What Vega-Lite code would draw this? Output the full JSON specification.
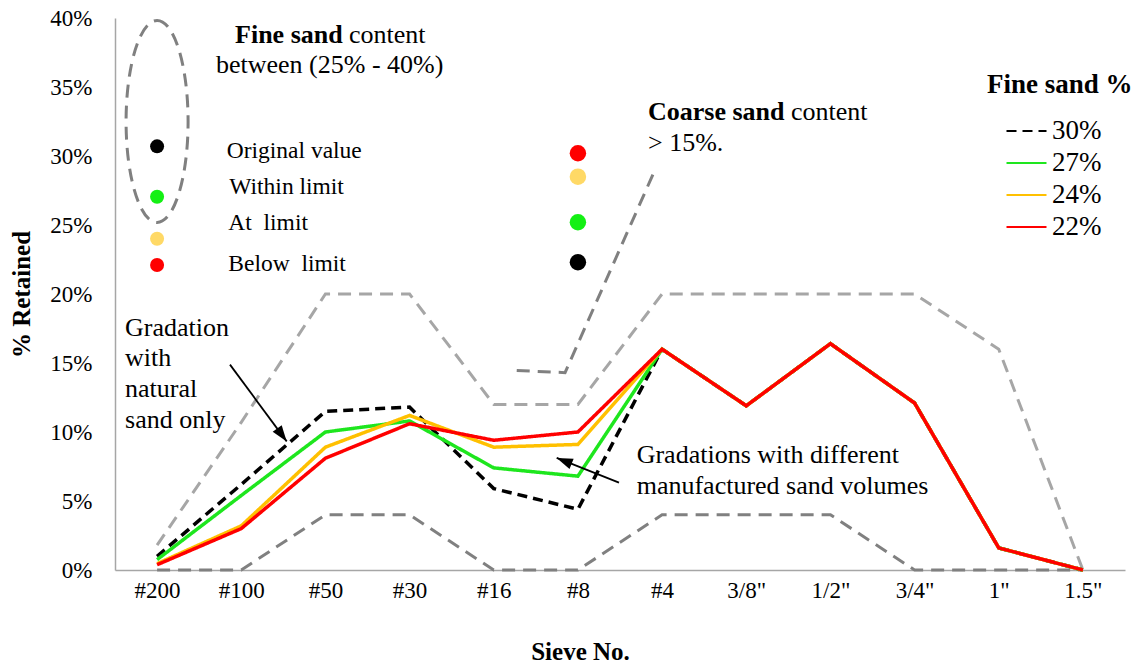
{
  "$schema": "https://vega.github.io/schema/vega-lite/v6.json",
  "width": 1010,
  "height": 552,
  "autosize": {"type": "none"},
  "padding": {"left": 115, "top": 18, "right": 21, "bottom": 96},
  "background": "white",
  "config": {
    "view": {"stroke": null},
    "font": "Liberation Serif",
    "axis": {
      "grid": false,
      "ticks": false,
      "tickSize": 0,
      "domainColor": "#A6A6A6",
      "domainWidth": 1.5,
      "labelFont": "Liberation Serif",
      "labelColor": "#000000",
      "labelFontSize": 23,
      "titleFont": "Liberation Serif",
      "titleColor": "#000000",
      "titleFontSize": 25,
      "titleFontWeight": "bold",
      "labelOverlap": false,
      "labelFlush": false
    }
  },
  "datasets": {
    "series": [
      {"pos": 1, "series": "30%", "retained": 0.99},
      {"pos": 2, "series": "30%", "retained": 6.2},
      {"pos": 3, "series": "30%", "retained": 11.5},
      {"pos": 4, "series": "30%", "retained": 11.8},
      {"pos": 5, "series": "30%", "retained": 5.9},
      {"pos": 6, "series": "30%", "retained": 4.4},
      {"pos": 7, "series": "30%", "retained": 16.0},
      {"pos": 8, "series": "30%", "retained": 11.9},
      {"pos": 9, "series": "30%", "retained": 16.4},
      {"pos": 10, "series": "30%", "retained": 12.1},
      {"pos": 11, "series": "30%", "retained": 1.6},
      {"pos": 12, "series": "30%", "retained": 0},
      {"pos": 1, "series": "27%", "retained": 0.75},
      {"pos": 2, "series": "27%", "retained": 5.4},
      {"pos": 3, "series": "27%", "retained": 10.0},
      {"pos": 4, "series": "27%", "retained": 10.8},
      {"pos": 5, "series": "27%", "retained": 7.4},
      {"pos": 6, "series": "27%", "retained": 6.8},
      {"pos": 7, "series": "27%", "retained": 16.0},
      {"pos": 8, "series": "27%", "retained": 11.9},
      {"pos": 9, "series": "27%", "retained": 16.4},
      {"pos": 10, "series": "27%", "retained": 12.1},
      {"pos": 11, "series": "27%", "retained": 1.6},
      {"pos": 12, "series": "27%", "retained": 0},
      {"pos": 1, "series": "24%", "retained": 0.46},
      {"pos": 2, "series": "24%", "retained": 3.2},
      {"pos": 3, "series": "24%", "retained": 8.9},
      {"pos": 4, "series": "24%", "retained": 11.2},
      {"pos": 5, "series": "24%", "retained": 8.9},
      {"pos": 6, "series": "24%", "retained": 9.1},
      {"pos": 7, "series": "24%", "retained": 16.0},
      {"pos": 8, "series": "24%", "retained": 11.9},
      {"pos": 9, "series": "24%", "retained": 16.4},
      {"pos": 10, "series": "24%", "retained": 12.1},
      {"pos": 11, "series": "24%", "retained": 1.6},
      {"pos": 12, "series": "24%", "retained": 0},
      {"pos": 1, "series": "22%", "retained": 0.38},
      {"pos": 2, "series": "22%", "retained": 3.0},
      {"pos": 3, "series": "22%", "retained": 8.1},
      {"pos": 4, "series": "22%", "retained": 10.6},
      {"pos": 5, "series": "22%", "retained": 9.4},
      {"pos": 6, "series": "22%", "retained": 10.0},
      {"pos": 7, "series": "22%", "retained": 16.0},
      {"pos": 8, "series": "22%", "retained": 11.9},
      {"pos": 9, "series": "22%", "retained": 16.4},
      {"pos": 10, "series": "22%", "retained": 12.1},
      {"pos": 11, "series": "22%", "retained": 1.6},
      {"pos": 12, "series": "22%", "retained": 0}
    ],
    "limits": [
      {"pos": 1, "bound": "upper", "retained": 1.8},
      {"pos": 2, "bound": "upper", "retained": 10.7},
      {"pos": 3, "bound": "upper", "retained": 20},
      {"pos": 4, "bound": "upper", "retained": 20},
      {"pos": 5, "bound": "upper", "retained": 12},
      {"pos": 6, "bound": "upper", "retained": 12},
      {"pos": 7, "bound": "upper", "retained": 20},
      {"pos": 8, "bound": "upper", "retained": 20},
      {"pos": 9, "bound": "upper", "retained": 20},
      {"pos": 10, "bound": "upper", "retained": 20},
      {"pos": 11, "bound": "upper", "retained": 16},
      {"pos": 12, "bound": "upper", "retained": 0},
      {"pos": 1, "bound": "lower", "retained": 0},
      {"pos": 2, "bound": "lower", "retained": 0},
      {"pos": 3, "bound": "lower", "retained": 4},
      {"pos": 4, "bound": "lower", "retained": 4},
      {"pos": 5, "bound": "lower", "retained": 0},
      {"pos": 6, "bound": "lower", "retained": 0},
      {"pos": 7, "bound": "lower", "retained": 4},
      {"pos": 8, "bound": "lower", "retained": 4},
      {"pos": 9, "bound": "lower", "retained": 4},
      {"pos": 10, "bound": "lower", "retained": 0},
      {"pos": 11, "bound": "lower", "retained": 0},
      {"pos": 12, "bound": "lower", "retained": 0}
    ],
    "coarse": [
      {"pos": 5.273, "retained": 14.46},
      {"pos": 5.847, "retained": 14.3},
      {"pos": 6.916, "retained": 29.0}
    ],
    "ellipse": [
      {"pos": 1, "retained": 32.5}
    ],
    "dots": [
      {"pos": 1, "status": "Original value", "retained": 30.7},
      {"pos": 1, "status": "Within limit", "retained": 27.05},
      {"pos": 1, "status": "At limit", "retained": 24.0},
      {"pos": 1, "status": "Below limit", "retained": 22.1},
      {"pos": 6, "status": "Below limit", "retained": 30.2},
      {"pos": 6, "status": "At limit", "retained": 28.5},
      {"pos": 6, "status": "Within limit", "retained": 25.2},
      {"pos": 6, "status": "Original value", "retained": 22.3}
    ],
    "arrows": [
      {"arrow": "natural", "part": "tail", "pos": 1.866, "retained": 14.88},
      {"arrow": "natural", "part": "tip", "pos": 2.54, "retained": 9.32},
      {"arrow": "manufactured", "part": "tail", "pos": 6.488, "retained": 6.33},
      {"arrow": "manufactured", "part": "tip", "pos": 5.748, "retained": 8.12}
    ],
    "boldNotes": [
      {"pos": 1.926, "retained": 38.19, "label": "Fine sand"},
      {"pos": 6.833, "retained": 32.58, "label": "Coarse sand"}
    ],
    "legendTitle": [
      {"pos": 10.86, "retained": 34.57, "label": "Fine sand %"}
    ],
    "notes": [
      {"pos": 3.28, "retained": 38.19, "label": "content"},
      {"pos": 1.7, "retained": 36.04, "label": "between (25% - 40%)"},
      {"pos": 8.532, "retained": 32.58, "label": "content"},
      {"pos": 6.833, "retained": 30.33, "label": "> 15%."},
      {"pos": 0.619, "retained": 16.98, "label": ["Gradation", "with", "natural", "sand only"]},
      {"pos": 6.698, "retained": 7.75, "label": ["Gradations with different", "manufactured sand volumes"]}
    ],
    "dotNotes": [
      {"pos": 1.827, "retained": 29.86, "label": "Original value"},
      {"pos": 1.858, "retained": 27.25, "label": "Within limit"},
      {"pos": 1.846, "retained": 24.61, "label": "At\u00a0 limit"},
      {"pos": 1.846, "retained": 21.64, "label": "Below\u00a0 limit"}
    ]
  },
  "encoding": {
    "x": {
      "field": "pos",
      "type": "quantitative",
      "scale": {"domain": [0.5, 12.5], "nice": false, "zero": false},
      "axis": {
        "values": [1, 2, 3, 4, 5, 6, 7, 8, 9, 10, 11, 12],
        "labelExpr": "['#200','#100','#50','#30','#16','#8','#4','3/8\"','1/2\"','3/4\"','1\"','1.5\"'][datum.value - 1]",
        "labelAngle": 0,
        "labelAlign": "center",
        "labelBaseline": "alphabetic",
        "labelPadding": 27,
        "title": "Sieve No.",
        "titleX": 465,
        "titleY": 89,
        "titleAlign": "center",
        "titleBaseline": "alphabetic"
      }
    },
    "y": {
      "field": "retained",
      "type": "quantitative",
      "scale": {"domain": [0, 40], "nice": false},
      "axis": {
        "values": [0, 5, 10, 15, 20, 25, 30, 35, 40],
        "labelExpr": "datum.value + '%'",
        "labelPadding": 23,
        "title": "% Retained",
        "titleAngle": -90,
        "titleX": -94,
        "titleY": 276,
        "titleAlign": "center",
        "titleBaseline": "middle"
      }
    }
  },
  "layer": [
    {
      "data": {"name": "limits"},
      "transform": [{"filter": "datum.bound === 'upper'"}],
      "mark": {"type": "line", "stroke": "#A6A6A6", "strokeWidth": 3, "strokeDash": [13, 8]}
    },
    {
      "data": {"name": "limits"},
      "transform": [{"filter": "datum.bound === 'lower'"}],
      "mark": {"type": "line", "stroke": "#808080", "strokeWidth": 3, "strokeDash": [13, 8]}
    },
    {
      "data": {"name": "coarse"},
      "mark": {"type": "line", "stroke": "#808080", "strokeWidth": 3, "strokeDash": [13, 8]}
    },
    {
      "data": {"name": "ellipse"},
      "mark": {
        "type": "point",
        "shape": "M0,-1C0.1695,-1,0.307,-0.5523,0.307,0C0.307,0.5523,0.1695,1,0,1C-0.1695,1,-0.307,0.5523,-0.307,0C-0.307,-0.5523,-0.1695,-1,0,-1Z",
        "size": 40804,
        "filled": false,
        "opacity": 1,
        "stroke": "#808080",
        "strokeWidth": 3,
        "strokeDash": [13, 8]
      }
    },
    {
      "data": {"name": "series"},
      "mark": {"type": "line", "strokeWidth": 3.5},
      "encoding": {
        "color": {
          "field": "series",
          "type": "nominal",
          "scale": {"domain": ["30%", "27%", "24%", "22%"], "range": ["#000000", "#1EE61E", "#FFC000", "#FF0000"]},
          "legend": {
            "title": null,
            "orient": "none",
            "legendX": 898,
            "legendY": 99.5,
            "padding": 0,
            "labelFont": "Liberation Serif",
            "labelFontSize": 27,
            "labelColor": "#000000",
            "labelOffset": 12,
            "symbolType": "M-2,0H2",
            "symbolSize": 400,
            "symbolStrokeWidth": 2,
            "rowPadding": 4
          }
        },
        "strokeDash": {
          "field": "series",
          "type": "nominal",
          "scale": {"domain": ["30%", "27%", "24%", "22%"], "range": [[10, 6], [1, 0], [1, 0], [1, 0]]},
          "legend": null
        }
      }
    },
    {
      "data": {"name": "dots"},
      "transform": [{"filter": "datum.pos === 1"}],
      "mark": {"type": "point", "shape": "circle", "filled": true, "opacity": 1, "size": 196},
      "encoding": {
        "fill": {
          "field": "status",
          "type": "nominal",
          "scale": {"domain": ["Original value", "Within limit", "At limit", "Below limit"], "range": ["#000000", "#14F014", "#FFD966", "#FF0000"]},
          "legend": null
        }
      }
    },
    {
      "data": {"name": "dots"},
      "transform": [{"filter": "datum.pos === 6"}],
      "mark": {"type": "point", "shape": "circle", "filled": true, "opacity": 1, "size": 272},
      "encoding": {
        "fill": {
          "field": "status",
          "type": "nominal",
          "scale": {"domain": ["Original value", "Within limit", "At limit", "Below limit"], "range": ["#000000", "#14F014", "#FFD966", "#FF0000"]},
          "legend": null
        }
      }
    },
    {
      "data": {"name": "arrows"},
      "mark": {"type": "line", "stroke": "#000000", "strokeWidth": 1.8},
      "encoding": {"detail": {"field": "arrow", "type": "nominal"}}
    },
    {
      "data": {"name": "arrows"},
      "transform": [{"filter": "datum.part === 'tip' && datum.arrow === 'natural'"}],
      "mark": {"type": "point", "shape": "M0,0L-0.35,1L0.35,1Z", "size": 1024, "filled": true, "opacity": 1, "color": "#000000", "angle": 143.5}
    },
    {
      "data": {"name": "arrows"},
      "transform": [{"filter": "datum.part === 'tip' && datum.arrow === 'manufactured'"}],
      "mark": {"type": "point", "shape": "M0,0L-0.35,1L0.35,1Z", "size": 1024, "filled": true, "opacity": 1, "color": "#000000", "angle": 291.6}
    },
    {
      "data": {"name": "boldNotes"},
      "mark": {"type": "text", "align": "left", "baseline": "alphabetic", "font": "Liberation Serif", "fontSize": 26, "fontWeight": "bold", "color": "#000000"},
      "encoding": {"text": {"field": "label", "type": "nominal"}}
    },
    {
      "data": {"name": "legendTitle"},
      "mark": {"type": "text", "align": "left", "baseline": "alphabetic", "font": "Liberation Serif", "fontSize": 27, "fontWeight": "bold", "color": "#000000"},
      "encoding": {"text": {"field": "label", "type": "nominal"}}
    },
    {
      "data": {"name": "notes"},
      "mark": {"type": "text", "align": "left", "baseline": "alphabetic", "font": "Liberation Serif", "fontSize": 26, "lineHeight": 30.7, "color": "#000000"},
      "encoding": {"text": {"field": "label", "type": "nominal"}}
    },
    {
      "data": {"name": "dotNotes"},
      "mark": {"type": "text", "align": "left", "baseline": "alphabetic", "font": "Liberation Serif", "fontSize": 23.5, "color": "#000000"},
      "encoding": {"text": {"field": "label", "type": "nominal"}}
    }
  ]
}
